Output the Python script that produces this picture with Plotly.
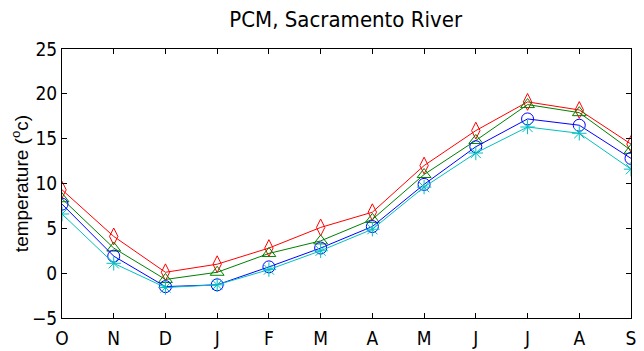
import plotly.graph_objects as go

months = ["O", "N", "D", "J", "F", "M", "A", "M", "J", "J", "A", "S"]
red_vals = [9.3, 4.1, 0.1, 1.0, 2.8, 5.1, 6.8, 12.0, 15.9, 19.1, 18.2, 14.4]
green_vals = [8.3, 2.8, -0.7, 0.1, 2.2, 3.6, 6.0, 11.0, 14.8, 18.8, 17.9, 13.7]
blue_vals = [7.7, 1.9, -1.5, -1.3, 0.7, 2.8, 5.2, 9.9, 14.1, 17.2, 16.5, 12.8]
cyan_vals = [6.6, 1.1, -1.6, -1.3, 0.4, 2.5, 4.9, 9.6, 13.4, 16.3, 15.6, 11.6]

x = list(range(len(months)))

fig = go.Figure()
series = [
    (red_vals, "#ff0000", "diamond-tall-open"),
    (green_vals, "#008000", "triangle-up-open"),
    (blue_vals, "#0000ff", "circle-open"),
    (cyan_vals, "#00c0c0", "asterisk-open"),
]
for vals, color, sym in series:
    fig.add_trace(go.Scatter(
        x=x, y=vals, mode="lines+markers",
        line=dict(color=color, width=1),
        marker=dict(symbol=sym, size=12, color=color, line=dict(color=color, width=1)),
        showlegend=False,
    ))

narrow = "DejaVu Sans Condensed, Liberation Sans Narrow, Liberation Sans, sans-serif"
tick_font = dict(family=narrow, size=19, color="black")

# page body has an 8px margin, so the figure is a bit smaller than the window
fig.update_layout(
    width=636, height=343,
    margin=dict(l=54, r=13, t=41, b=33),
    paper_bgcolor="white", plot_bgcolor="white",
    title=dict(text="PCM, Sacramento River", x=0.531, xanchor="center", y=0.966, yanchor="middle",
               font=dict(family=narrow, size=22, color="black")),
    xaxis=dict(range=[0, 11], tickvals=x, ticktext=months, showgrid=False, zeroline=False,
               showline=True, linecolor="black", linewidth=1, mirror="ticks", automargin=False,
               ticks="inside", ticklen=5, tickcolor="black", tickfont=tick_font, ticklabelstandoff=3),
    yaxis=dict(range=[-5, 25], dtick=5, showgrid=False, zeroline=False, automargin=False,
               showline=True, linecolor="black", linewidth=1, mirror="ticks",
               ticks="inside", ticklen=5, tickcolor="black", tickfont=tick_font,
               title=dict(text="temperature (<sup>o</sup>c)", standoff=4,
                          font=dict(family="Liberation Sans, Arial, sans-serif", size=19, color="black"))),
)

fig.write_html("out.html")
